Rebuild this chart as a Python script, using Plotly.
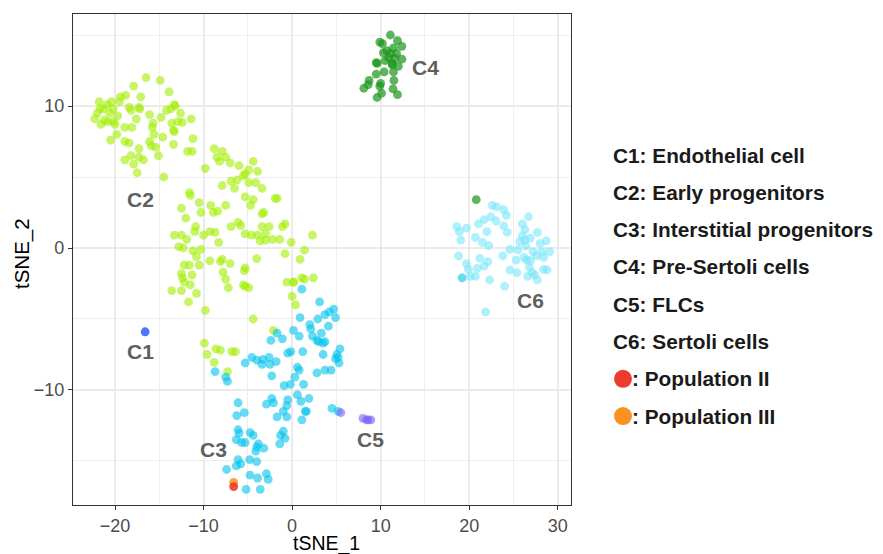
import plotly.graph_objects as go

# ---------------- data (tSNE coordinates) ----------------
c1_points = [(-16.6, -5.9)]

c2_points = [
    (-16.5, 12.0), (-14.9, 11.8), (-17.9, 11.4), (-13.9, 11.0), (-18.8, 10.75), (-19.4, 10.65),
    (-17.1, 10.65), (-21.8, 10.3), (-20.4, 10.3), (-19.5, 10.3), (-20.9, 10.1), (-13.3, 10.1),
    (-13.2, 10.0), (-18.4, 9.9), (-17.3, 9.9), (-17.2, 9.8), (-18.2, 9.7), (-21.3, 9.8),
    (-21.7, 9.8), (-20.2, 9.8), (-13.7, 9.8), (-14.2, 9.7), (-12.6, 9.5), (-16.1, 9.4),
    (-22.0, 9.5), (-20.6, 9.5), (-19.7, 9.3), (-14.8, 9.2), (-17.6, 9.1), (-11.4, 9.1),
    (-22.3, 9.1), (-21.2, 9.0), (-20.8, 8.9), (-20.2, 8.9), (-13.6, 8.8), (-12.9, 8.9),
    (-12.4, 8.85), (-15.7, 8.8), (-21.6, 8.7), (-20.0, 8.7), (-18.9, 8.5), (-18.1, 8.5),
    (-15.8, 8.5), (-13.4, 8.3), (-13.3, 8.2), (-15.6, 8.0), (-19.8, 8.0), (-14.6, 7.8),
    (-11.2, 7.7), (-20.5, 7.6), (-18.9, 7.5), (-18.4, 7.4), (-16.1, 7.5), (-13.4, 7.3),
    (-15.9, 7.2), (-15.4, 7.1), (-17.3, 7.0), (-11.8, 6.8), (-11.3, 6.8), (-8.8, 7.0),
    (-15.1, 6.5), (-18.2, 6.5), (-8.5, 6.4), (-17.3, 6.4), (-16.8, 6.2), (-18.9, 6.2),
    (-17.9, 5.9), (-17.5, 5.3), (-14.5, 5.0), (-9.8, 5.6), (-8.2, 6.1),
    (-7.9, 6.8), (-7.5, 6.4), (-7.0, 6.0), (-6.0, 5.8), (-4.4, 6.1), (-4.9, 5.5), (-3.9, 5.4),
    (-5.3, 5.2), (-5.5, 5.1), (-7.9, 4.4), (-6.9, 4.7), (-6.2, 4.8), (-4.9, 4.6), (-4.1, 4.6),
    (-3.4, 4.2), (-6.5, 4.2), (-5.3, 3.6), (-4.4, 3.4), (-4.7, 3.0), (-1.9, 3.5), (-1.7, 3.5),
    (-11.6, 3.9), (-11.5, 3.7), (-10.5, 3.2), (-9.2, 3.0), (-7.5, 3.0), (-12.5, 2.8),
    (-10.3, 2.5), (-8.9, 2.5), (-8.4, 2.6), (-3.2, 2.5), (-3.4, 2.4), (-12.0, 2.1),
    (-6.9, 1.5), (-6.1, 1.8), (-5.8, 1.6), (-3.4, 1.5), (-2.6, 1.5), (-0.8, 1.7), (-1.1, 1.5),
    (-10.9, 1.5), (-11.0, 1.15), (-13.3, 0.9), (-12.5, 0.9), (-11.9, 0.6), (-10.0, 0.9),
    (-9.3, 1.15), (-8.7, 1.1), (-8.3, 0.4), (-5.3, 1.0), (-4.6, 0.9), (-3.9, 0.9), (-3.0, 1.0),
    (-3.6, 0.5), (-3.0, 0.56), (-2.2, 0.6), (-1.4, 0.6), (-0.1, 0.4), (2.3, 0.9), (-12.8, 0.1),
    (-12.3, 0.0), (-11.2, -0.2), (-10.3, -0.1), (-10.8, -0.6), (-9.3, -0.9), (-8.1, -0.95),
    (-7.9, -0.8), (-7.0, -1.1), (-7.8, -1.7), (-4.0, -0.75), (-0.8, -0.4), (1.4, -0.15),
    (0.9, -0.8), (-5.3, -1.4), (-5.4, -1.6), (-12.2, -1.2), (-11.6, -1.2), (-10.5, -1.2),
    (-12.5, -1.8), (-11.3, -1.9), (-12.4, -2.1), (-12.2, -2.4), (-11.5, -2.6), (-7.5, -2.2),
    (-7.2, -2.8), (-5.5, -2.6), (-5.3, -2.7), (-4.9, -2.8), (-13.6, -3.0), (-12.5, -3.0),
    (-11.7, -3.8), (-0.6, -2.4), (0.1, -2.4), (0.2, -2.4), (1.1, -2.1), (1.4, -2.2), (2.4, -2.1),
    (-10.8, -3.2), (-9.8, -4.4), (0.0, -3.4), (0.4, -4.0), (-4.4, -5.0), (-2.1, -5.8),
    (-9.9, -6.7), (-9.6, -7.5), (-8.6, -7.1), (-8.1, -7.2), (-6.8, -7.3), (-6.4, -7.3),
    (-8.8, -8.05), (-7.3, -8.7),
]

c3_points = [
    (1.1, -2.9), (3.1, -3.8), (4.7, -4.3), (4.2, -4.5), (3.7, -4.7), (4.9, -4.9), (0.9, -4.9),
    (2.9, -5.0), (2.0, -5.4), (2.1, -5.7), (4.1, -5.5), (0.15, -5.8), (-1.7, -6.0), (-2.4, -6.5),
    (-1.1, -6.4), (0.8, -6.2), (2.3, -6.2), (2.8, -6.5), (3.3, -6.0), (3.0, -6.6), (3.5, -6.7),
    (3.7, -6.6), (5.4, -7.1), (5.05, -7.5), (4.9, -7.8), (5.2, -7.7), (3.5, -7.5), (5.3, -8.1),
    (1.2, -7.3), (-0.5, -7.4), (-0.15, -7.3), (-4.55, -7.7), (-5.3, -8.1), (-4.0, -7.9),
    (-3.3, -7.85), (-2.6, -7.7), (-1.8, -8.0), (-3.4, -8.2), (-2.5, -8.2), (0.6, -8.4),
    (0.8, -8.6), (0.3, -9.1), (-2.3, -9.0), (2.8, -8.8), (3.7, -8.6), (4.4, -8.6), (-8.7, -8.7),
    (-7.5, -9.1), (-7.3, -9.4), (-0.9, -9.7), (-0.2, -9.6), (1.3, -9.6), (-2.3, -10.6),
    (-2.1, -10.9), (-2.9, -11.0), (-0.5, -10.7), (0.6, -10.35), (1.9, -10.6), (1.0, -10.8),
    (-6.1, -10.9), (-6.25, -11.8), (-5.4, -11.6), (-0.6, -11.1), (-1.0, -11.5), (-1.7, -11.9),
    (-0.6, -11.9), (1.5, -11.5), (1.6, -11.5), (1.1, -12.1), (4.5, -11.3), (5.2, -11.5),
    (-6.1, -12.8), (-6.0, -13.05), (-6.3, -13.5), (-4.75, -13.0), (-4.4, -13.2), (-5.7, -13.7),
    (-5.3, -13.7), (-1.0, -12.9), (-1.3, -13.2), (-0.8, -13.4), (-1.4, -13.8), (-3.8, -13.8),
    (-4.0, -14.0), (-3.2, -14.1), (-4.1, -14.3), (-6.1, -14.9), (-5.8, -15.2), (-6.3, -15.35),
    (-4.8, -14.9), (-4.0, -15.05), (-7.4, -15.6), (-4.75, -16.0), (-3.9, -16.2), (-2.9, -15.9),
    (-2.7, -16.3), (-5.2, -17.0), (-3.6, -17.0), (19.2, -2.1),
]

c4_points = [
    (11.1, 15.0), (9.9, 14.5), (10.2, 14.4), (11.9, 14.6), (12.4, 14.2), (11.45, 14.1),
    (10.7, 13.9), (10.3, 13.75), (11.1, 13.7), (11.8, 13.7), (10.9, 13.4), (11.6, 13.35),
    (12.4, 13.3), (9.5, 13.05), (9.6, 13.0), (10.5, 13.2), (11.3, 13.0), (12.0, 12.8),
    (11.3, 12.9), (10.4, 12.4), (11.45, 12.4), (9.5, 12.25), (11.5, 11.8), (8.7, 11.8),
    (8.1, 11.25), (8.6, 11.5), (10.0, 11.6), (9.9, 11.4), (9.6, 10.6), (10.1, 10.9),
    (11.4, 11.2), (11.9, 10.8), (20.8, 3.4),
]

c5_points = [(5.5, -11.6), (8.0, -12.0), (8.4, -12.1), (8.9, -12.1), (8.6, -12.1)]

c6_points = [
    (22.6, 3.0), (23.1, 2.9), (23.9, 2.7), (24.2, 2.3), (26.7, 2.2), (22.45, 2.2), (21.7, 2.0),
    (21.05, 1.7), (23.05, 1.9), (23.9, 1.55), (26.0, 1.7), (18.6, 1.5), (19.7, 1.4), (18.9, 1.15),
    (22.0, 1.15), (24.3, 1.1), (26.3, 1.3), (27.7, 1.1), (19.05, 0.56), (20.7, 0.75), (21.5, 0.4),
    (22.2, 0.16), (26.0, 0.85), (26.9, 0.7), (25.7, 0.45), (26.3, 0.56), (28.7, 0.5), (28.0, 0.33),
    (24.6, -0.1), (25.5, -0.14), (26.4, 0.14), (27.2, -0.26), (28.2, -0.26), (29.1, -0.26),
    (18.8, -0.56), (23.8, -0.56), (21.2, -0.73), (19.7, -1.1), (22.1, -0.96), (21.7, -1.27),
    (19.9, -1.5), (20.9, -1.43), (25.3, -0.85), (26.2, -0.66), (26.9, -0.89), (27.6, -0.56),
    (28.4, -0.66), (25.4, -1.74), (26.8, -1.36), (27.1, -1.74), (27.4, -1.9), (28.4, -1.5),
    (28.8, -1.55), (20.1, -2.0), (20.7, -2.0), (22.3, -2.25), (26.6, -2.0), (27.7, -2.25),
    (24.0, -2.7), (21.85, -4.5), (24.6, -1.55), (26.5, -0.85),
]

pop3_points = [(-6.6, -16.5)]
pop2_points = [(-6.6, -16.8)]

cluster_labels = ["C1", "C2", "C3", "C4", "C5", "C6"]
label_x = [-17.1, -17.1, -8.9, 15.1, 8.8, 26.9]
label_y = [-7.3, 3.45, -14.2, 12.7, -13.5, -3.7]

legend_names = ["Endothelial cell", "Early progenitors", "Interstitial progenitors",
                "Pre-Sertoli cells", "FLCs", "Sertoli cells"]
pop_names = ["Population II", "Population III"]

x_ticks = [-20, -10, 0, 10, 20, 30]
y_ticks = [-10, 0, 10]

# ---------------- styling ----------------
FONT = "Liberation Sans, Arial, Helvetica, sans-serif"
col_c1, op_c1 = "#3F72F2", 0.95
col_c2, op_c2 = "#A2EE00", 0.6
col_c3, op_c3 = "#00C3EB", 0.6
col_c4, op_c4 = "#1A961A", 0.7
col_c5, op_c5 = "#7F5FF5", 0.6
col_c6, op_c6 = "#78E6FA", 0.6
col_p2 = "#EE3B2F"
col_p3 = "#F7931E"

# the page body adds an 8px offset, so the figure is laid out 8px smaller
OFF = 8
W, H = 883 - OFF, 554 - OFF
L, R, T, B = 73 - OFF, 571 - OFF, 14 - OFF, 505 - OFF  # panel pixel box in figure coords


def px2paper_x(px):
    # px given in window pixels
    return (px - OFF - L) / (R - L)


def px2paper_y(py):
    return (B - (py - OFF)) / (B - T)


fig = go.Figure()


def add(points, color, opacity, size=8.8):
    xs = [p[0] for p in points]
    ys = [p[1] for p in points]
    fig.add_trace(go.Scatter(
        x=xs, y=ys, mode="markers",
        marker=dict(size=size, color=color, opacity=opacity, line=dict(width=0)),
        showlegend=False, hoverinfo="skip"))


add(c2_points, col_c2, op_c2)
add(c3_points, col_c3, op_c3)
add(c4_points, col_c4, op_c4)
add(c5_points, col_c5, op_c5)
add(c6_points, col_c6, op_c6)
add(c1_points, col_c1, op_c1)
add(pop3_points, col_p3, 0.85)
add(pop2_points, col_p2, 0.9)

annotations = []
for lab, lx, ly in zip(cluster_labels, label_x, label_y):
    annotations.append(dict(x=lx, y=ly, xref="x", yref="y", text="<b>%s</b>" % lab,
                            showarrow=False, font=dict(family=FONT, size=21, color="#5F5F5F"),
                            xanchor="center", yanchor="middle"))

# legend-like text block on the right
leg_x = 612
leg_y0 = 155
leg_dy = 37.3
LEG_SIZE = 20.8
for i, name in enumerate(legend_names):
    annotations.append(dict(x=px2paper_x(leg_x), y=px2paper_y(leg_y0 + i * leg_dy),
                            xref="paper", yref="paper",
                            text="<b>%s: %s</b>" % (cluster_labels[i], name), showarrow=False,
                            font=dict(family=FONT, size=LEG_SIZE, color="#1A1A1A"),
                            xanchor="left", yanchor="middle", borderpad=0))
shapes = []
for j, (name, col) in enumerate(zip(pop_names, [col_p2, col_p3])):
    yy = leg_y0 + (6 + j) * leg_dy
    annotations.append(dict(x=px2paper_x(631), y=px2paper_y(yy), xref="paper", yref="paper",
                            text="<b>: %s</b>" % name, showarrow=False,
                            font=dict(family=FONT, size=LEG_SIZE, color="#1A1A1A"),
                            xanchor="left", yanchor="middle", borderpad=0))
    shapes.append(dict(type="circle", xref="paper", yref="paper",
                       xsizemode="pixel", ysizemode="pixel",
                       xanchor=px2paper_x(623), yanchor=px2paper_y(yy),
                       x0=-9, x1=9, y0=-9, y1=9,
                       fillcolor=col, line=dict(width=0)))

# axis titles
annotations.append(dict(x=px2paper_x(326), y=px2paper_y(543.5), xref="paper", yref="paper",
                        text="tSNE_1", showarrow=False,
                        font=dict(family=FONT, size=19.5, color="#000000"),
                        xanchor="center", yanchor="middle", borderpad=0))
annotations.append(dict(x=px2paper_x(22), y=px2paper_y(254), xref="paper", yref="paper",
                        text="tSNE_2", textangle=-90, showarrow=False,
                        font=dict(family=FONT, size=20.5, color="#000000"),
                        xanchor="center", yanchor="middle"))

axis_common = dict(
    showgrid=True, gridcolor="#EBEBEB", gridwidth=1.8, zeroline=False,
    showline=True, mirror=True, linecolor="#333333", linewidth=1.4,
    ticks="outside", ticklen=4, tickwidth=1.2, tickcolor="#333333",
    tickfont=dict(family=FONT, size=18, color="#4D4D4D"),
    minor=dict(dtick=5, showgrid=True, gridcolor="#EFEFEF", gridwidth=0.9),
)

fig.update_layout(
    width=W, height=H,
    margin=dict(l=L, r=W - R, t=T, b=H - B, autoexpand=False),
    paper_bgcolor="white", plot_bgcolor="white",
    xaxis=dict(range=[-24.75, 31.5], tickmode="array", tickvals=x_ticks, **axis_common),
    yaxis=dict(range=[-18.1, 16.48], tickmode="array", tickvals=y_ticks, **axis_common),
    annotations=annotations, shapes=shapes,
    showlegend=False,
)
fig.update_xaxes(minor=dict(tickmode="linear", tick0=0, dtick=5))
fig.update_yaxes(minor=dict(tickmode="linear", tick0=0, dtick=5))

fig.write_html("out.html")
